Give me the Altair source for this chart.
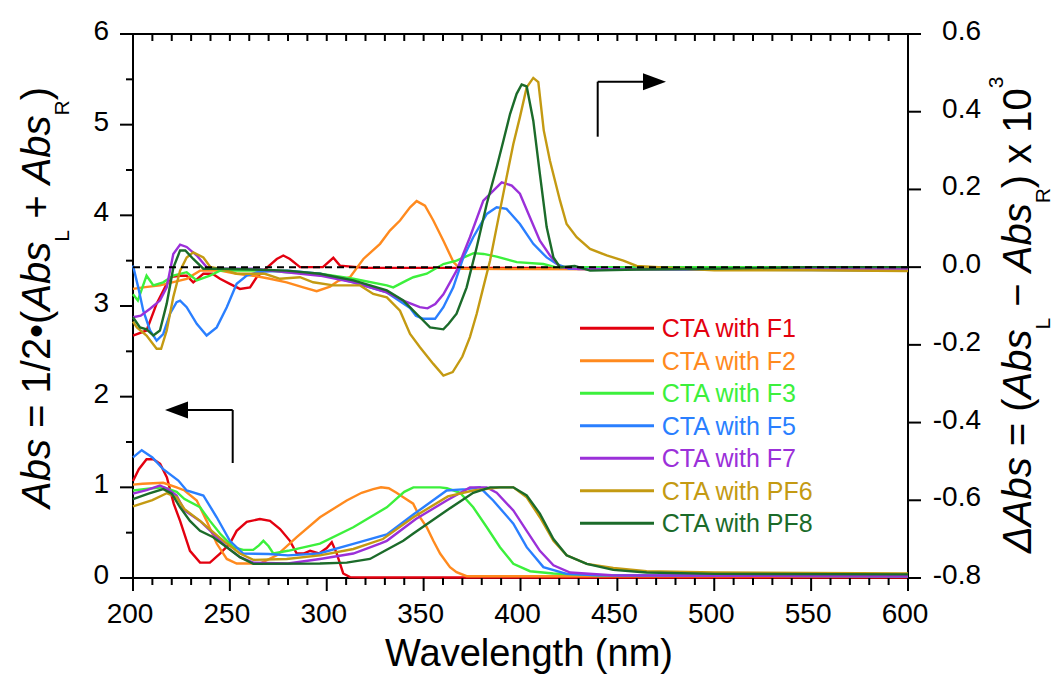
import altair as alt
import pandas as pd

SERIES = ["CTA with F1", "CTA with F2", "CTA with F3", "CTA with F5",
          "CTA with F7", "CTA with PF6", "CTA with PF8"]
COLORS = ["#e3000f", "#ff8a1e", "#3cf03c", "#2a7fff", "#9b30d9", "#c49a12", "#1b6b2a"]

# ---- absorbance spectra (left axis), (wavelength nm, Abs) ----
abs_F1 = [(200, 1.07), (203, 1.20), (207, 1.31), (210.5, 1.31), (214, 1.26), (217.5, 1.11),
          (221, 0.82), (224.3, 0.63), (229.4, 0.30), (234.6, 0.17), (239.7, 0.17), (244.9, 0.27),
          (250, 0.38), (253.5, 0.52), (258.7, 0.62), (265.5, 0.65), (270.7, 0.63), (275.9, 0.54),
          (281, 0.41), (284.5, 0.27), (288, 0.27), (291.4, 0.30), (296, 0.27), (300, 0.33),
          (302.6, 0.395), (305, 0.28), (308.5, 0.05), (312, 0.01), (320, 0.005), (400, 0.005),
          (500, 0.005), (600, 0.005)]
abs_F2 = [(200, 1.03), (205, 1.04), (215.6, 1.05), (222.5, 1.0), (226.6, 0.965), (232.9, 0.855),
          (238, 0.63), (243.2, 0.38), (248.4, 0.21), (253.5, 0.16), (265.5, 0.16), (274.2, 0.25),
          (284.5, 0.45), (296.5, 0.67), (310.3, 0.855), (318, 0.94), (324, 0.98), (328, 1.0),
          (332, 0.99), (336, 0.94), (339.5, 0.89), (344.6, 0.82), (348.1, 0.67), (351.6, 0.56),
          (355, 0.41), (358.5, 0.27), (363.6, 0.12), (367, 0.064), (372.2, 0.02), (450, 0.02),
          (600, 0.02)]
abs_F3 = [(200, 0.965), (210, 0.99), (215.6, 1.0), (222.5, 0.95), (226.6, 0.87), (234.6, 0.78),
          (239.7, 0.63), (244.9, 0.49), (251.7, 0.34), (256.9, 0.31), (262, 0.31), (265, 0.36),
          (267.3, 0.41), (270, 0.35), (272.4, 0.27), (280, 0.30), (296.5, 0.38), (313.7, 0.56),
          (331, 0.78), (340, 0.95), (344.7, 1.0), (358.5, 1.0), (362, 0.99), (368.8, 0.94),
          (375.6, 0.78), (382.6, 0.56), (389.4, 0.34), (396.3, 0.156), (404.9, 0.075),
          (416.9, 0.05), (440, 0.03), (600, 0.02)]
abs_F5 = [(200, 1.33), (204.5, 1.41), (210, 1.33), (215.6, 1.20), (223.4, 1.075), (227.7, 0.965),
          (236.3, 0.91), (243.2, 0.67), (250, 0.41), (256.9, 0.27), (270, 0.265), (280, 0.25),
          (296, 0.27), (313.7, 0.377), (331, 0.48), (344.7, 0.70), (361.9, 0.965), (372.2, 0.98),
          (379, 1.0), (385.9, 0.855), (396.3, 0.60), (403.2, 0.34), (411.8, 0.12), (423.8, 0.046),
          (440, 0.03), (600, 0.02)]
abs_F7 = [(200, 0.93), (207, 0.97), (213.9, 1.02), (218, 0.98), (222.5, 0.91), (226.6, 0.745),
          (234.6, 0.63), (241.4, 0.49), (248.4, 0.34), (255.2, 0.23), (262.1, 0.17), (280, 0.16),
          (296.5, 0.21), (313.7, 0.27), (327.5, 0.38), (331, 0.41), (346, 0.65), (361.9, 0.855),
          (373.9, 1.0), (382.6, 1.0), (387.7, 0.94), (396.3, 0.745), (403.2, 0.52), (410, 0.30),
          (417, 0.14), (425.6, 0.06), (447, 0.03), (600, 0.02)]
abs_PF6 = [(200, 0.79), (210, 0.86), (217.4, 0.935), (222.5, 0.89), (226.6, 0.76), (234.6, 0.63),
           (241.4, 0.505), (248.4, 0.38), (255.2, 0.27), (262.1, 0.20), (279.3, 0.21), (296.5, 0.25),
           (313.7, 0.32), (329, 0.43), (344.7, 0.67), (362.5, 0.90), (375.6, 0.965), (389.4, 1.0),
           (396.3, 1.0), (403.2, 0.89), (410, 0.67), (417, 0.41), (423.8, 0.25), (434.2, 0.156),
           (447.9, 0.11), (465.1, 0.075), (500, 0.06), (600, 0.05)]
abs_PF8 = [(200, 0.87), (208, 0.93), (215.6, 0.98), (220, 0.93), (224.3, 0.78), (229.4, 0.63),
           (234.6, 0.52), (241.4, 0.45), (248.4, 0.34), (255.2, 0.23), (262.1, 0.156), (296.5, 0.16),
           (310.3, 0.17), (322.3, 0.21), (330, 0.30), (339.5, 0.41), (344.7, 0.49), (363, 0.76),
           (375.6, 0.94), (384.3, 1.0), (396.3, 1.0), (403.2, 0.91), (410, 0.71), (417, 0.43),
           (423.8, 0.25), (434.2, 0.156), (447.9, 0.09), (465.1, 0.06), (500, 0.045), (600, 0.04)]

# ---- CD spectra (right axis), (wavelength nm, dAbs x 10^3) ----
cd_F1 = [(200, -0.176), (207, -0.163), (212.2, -0.094), (217.4, -0.043), (220, -0.025),
         (224.3, -0.022), (227.7, -0.022), (231.1, -0.039), (236.3, -0.017), (241, -0.017),
         (244.9, -0.03), (250, -0.043), (255.2, -0.056), (260.4, -0.052), (263.8, -0.026),
         (269, -0.002), (274.2, 0.021), (277.6, 0.03), (281, 0.021), (286.2, 0.0), (298, 0.0),
         (303.4, 0.024), (306.8, 0.004), (320, -0.002), (400, -0.002), (500, 0.0), (600, 0.0)]
cd_F2 = [(200, -0.056), (205.3, -0.052), (213.9, -0.047), (227.7, -0.03), (234.6, -0.009),
         (244.9, -0.009), (253.5, -0.017), (262.1, -0.022), (270.7, -0.03), (279.3, -0.039),
         (287.9, -0.052), (294.8, -0.062), (301.7, -0.05), (306, -0.035), (312, -0.026),
         (318.9, 0.021), (327.5, 0.06), (332.6, 0.094), (337.8, 0.12), (343, 0.154), (346.4, 0.17),
         (350.7, 0.158), (355, 0.12), (360.2, 0.068), (365.4, 0.013), (368.8, -0.004),
         (400, -0.005), (500, -0.006), (600, -0.008)]
cd_F3 = [(200, -0.07), (202.5, -0.086), (205, -0.05), (207, -0.022), (210.5, -0.047),
         (215.6, -0.039), (220.8, -0.022), (227.7, -0.013), (232.9, -0.034), (239.7, -0.022),
         (244.9, -0.009), (270, -0.009), (279.3, -0.013), (296.5, -0.017), (313.7, -0.03),
         (331, -0.047), (334.3, -0.052), (341.3, -0.034), (344.7, -0.026), (351.6, -0.017),
         (360.2, 0.008), (367, 0.017), (375.8, 0.036), (380.9, 0.034), (387.7, 0.027),
         (398.1, 0.013), (411.8, 0.008), (418, 0.0), (500, 0.0), (600, 0.0)]
cd_F5 = [(200, 0.004), (202.7, -0.052), (205.3, -0.112), (208.8, -0.163), (212.2, -0.189),
         (215.6, -0.172), (219.1, -0.12), (222.5, -0.09), (224.3, -0.086), (227.7, -0.103),
         (232.9, -0.146), (238, -0.176), (243.2, -0.155), (248.4, -0.103), (253.5, -0.043),
         (258.7, -0.022), (265, -0.012), (280, -0.009), (296.5, -0.017), (313.7, -0.039),
         (331, -0.065), (343, -0.105), (346, -0.125), (349.8, -0.133), (355.9, -0.133),
         (360.2, -0.103), (365.3, -0.052), (370.5, 0.025), (375.6, 0.077), (382.6, 0.137),
         (387.7, 0.154), (392.8, 0.15), (399.7, 0.111), (406.6, 0.06), (413.5, 0.025),
         (418.7, 0.008), (425, -0.004), (500, -0.006), (600, -0.009)]
cd_F7 = [(200, -0.129), (204, -0.125), (208.8, -0.107), (213.9, -0.086), (217.4, -0.052),
         (220.8, 0.034), (224.3, 0.058), (227.7, 0.052), (232.9, 0.03), (238, 0.0), (244, -0.004),
         (262, -0.004), (279.3, -0.013), (296.5, -0.022), (313.7, -0.039), (331, -0.065),
         (339.5, -0.086), (348, -0.103), (352, -0.106), (356, -0.095), (360.2, -0.07),
         (367, -0.009), (373.9, 0.077), (380.8, 0.171), (386, 0.197), (390.3, 0.218),
         (395.5, 0.21), (399.7, 0.189), (404.9, 0.128), (410, 0.068), (415.2, 0.03), (420.4, 0.0),
         (430, -0.005), (600, -0.005)]
cd_PF6 = [(200, -0.14), (202, -0.155), (207, -0.176), (212.2, -0.21), (214.5, -0.21),
          (217.4, -0.163), (220.8, -0.077), (224.3, -0.009), (227.7, 0.025), (231.1, 0.038),
          (236.3, 0.025), (240, 0.0), (244.9, -0.004), (253.5, -0.017), (268, -0.017),
          (275.9, -0.03), (286.2, -0.026), (293, -0.039), (303.4, -0.047), (317.2, -0.047),
          (324, -0.069), (331, -0.078), (337.8, -0.112), (343, -0.172), (348.1, -0.206),
          (355, -0.249), (360.2, -0.279), (365, -0.27), (370, -0.23), (373.9, -0.18),
          (377.4, -0.12), (380.8, -0.052), (384.3, 0.017), (387.7, 0.103), (392.8, 0.231),
          (396.3, 0.317), (399.7, 0.386), (403.2, 0.463), (406.6, 0.487), (409.2, 0.476),
          (412, 0.352), (415.2, 0.274), (420.4, 0.171), (423.8, 0.111), (429, 0.077),
          (435.9, 0.047), (444.5, 0.03), (453.1, 0.017), (460, 0.003), (480, -0.003),
          (500, -0.008), (550, -0.008), (600, -0.01)]
cd_PF8 = [(200, -0.129), (203.6, -0.155), (207, -0.16), (210.5, -0.176), (213.9, -0.163),
          (217.4, -0.094), (220.8, -0.002), (224.3, 0.043), (227, 0.043), (231.1, 0.021),
          (236.3, -0.004), (244, -0.004), (262, -0.006), (279.3, -0.009), (296.5, -0.017),
          (313.7, -0.034), (331, -0.06), (339.5, -0.086), (348.1, -0.129), (353.3, -0.155),
          (360.2, -0.16), (363, -0.145), (367, -0.12), (372.2, -0.052), (377.4, 0.051),
          (382.6, 0.163), (387.7, 0.257), (391.2, 0.326), (394.6, 0.394), (398, 0.446),
          (400.6, 0.47), (403.2, 0.465), (406.6, 0.377), (410, 0.24), (413.5, 0.103),
          (417, 0.025), (420.4, 0.0), (428, 0.003), (435.9, -0.009), (460, -0.006),
          (500, -0.004), (550, 0.0), (600, 0.0)]

ABS_CURVES = [abs_F1, abs_F2, abs_F3, abs_F5, abs_F7, abs_PF6, abs_PF8]
CD_CURVES = [cd_F1, cd_F2, cd_F3, cd_F5, cd_F7, cd_PF6, cd_PF8]

X_MAJOR = [200, 250, 300, 350, 400, 450, 500, 550, 600]
X_MINOR = [v for v in range(210, 600, 10) if v % 50]
X_TOP = list(range(210, 600, 10))
ABS_TICKS = [0, 1, 2, 3, 4, 5, 6]
ABS_MINOR = [0.5, 1.5, 2.5, 3.5, 4.5, 5.5]
CD_TICKS = [-0.8, -0.6, -0.4, -0.2, 0.0, 0.2, 0.4, 0.6]
CD_LABELS = ["-0.8", "-0.6", "-0.4", "-0.2", "0.0", "0.2", "0.4", "0.6"]

W, H = 775, 544
FONT = "Liberation Sans"
LBL = 28


def to_frame(curves):
    rows = []
    for name, pts in zip(SERIES, curves):
        for i, (w, v) in enumerate(pts):
            rows.append({"series": name, "wl": w, "val": v, "i": i})
    return pd.DataFrame(rows)


abs_df = to_frame(ABS_CURVES)
cd_df = to_frame(CD_CURVES)

x_scale = alt.Scale(domain=[200, 600], nice=False, zero=False)
abs_scale = alt.Scale(domain=[0, 6], nice=False, zero=False)
cd_scale = alt.Scale(domain=[-0.8, 0.6], nice=False, zero=False)
color = alt.Color("series:N", scale=alt.Scale(domain=SERIES, range=COLORS), legend=None)


def xq(field):
    return alt.X(field, scale=x_scale, axis=None)


def rule(df):
    return alt.Chart(df).mark_rule(color="black", strokeWidth=2)


# ---- absorbance group (left axis) ----
abs_lines = alt.Chart(abs_df).mark_line(strokeWidth=2.4).encode(
    x=xq("wl:Q"), y=alt.Y("val:Q", scale=abs_scale, axis=None),
    color=color, order=alt.Order("i:Q"))
left_major = rule(pd.DataFrame({"v": ABS_TICKS})).encode(
    y=alt.Y("v:Q", scale=abs_scale, axis=None), x=alt.value(-13), x2=alt.value(0))
left_minor = rule(pd.DataFrame({"v": ABS_MINOR})).encode(
    y=alt.Y("v:Q", scale=abs_scale, axis=None), x=alt.value(-7), x2=alt.value(0))
left_labels = alt.Chart(pd.DataFrame({"v": ABS_TICKS, "lab": [str(v) for v in ABS_TICKS]})).mark_text(
    align="right", baseline="alphabetic", dy=6, font=FONT, fontSize=LBL, color="black").encode(
    y=alt.Y("v:Q", scale=abs_scale, axis=None), x=alt.value(-24), text="lab:N")
bottom_major = rule(pd.DataFrame({"v": X_MAJOR})).encode(
    x=xq("v:Q"), y=alt.value(H), y2=alt.value(H + 13))
bottom_minor = rule(pd.DataFrame({"v": X_MINOR})).encode(
    x=xq("v:Q"), y=alt.value(H), y2=alt.value(H + 7))
bottom_labels = alt.Chart(pd.DataFrame({"v": X_MAJOR, "lab": [str(v) for v in X_MAJOR]})).mark_text(
    align="center", baseline="alphabetic", dx=-3, font=FONT, fontSize=LBL, color="black").encode(
    x=xq("v:Q"), y=alt.value(H + 45), text="lab:N")
top_ticks = rule(pd.DataFrame({"v": X_TOP})).encode(
    x=xq("v:Q"), y=alt.value(0), y2=alt.value(7))

abs_group = alt.layer(abs_lines, left_major, left_minor, left_labels,
                      bottom_major, bottom_minor, bottom_labels, top_ticks)

# ---- CD group (right axis) ----
cd_lines = alt.Chart(cd_df).mark_line(strokeWidth=2.4).encode(
    x=xq("wl:Q"), y=alt.Y("val:Q", scale=cd_scale, axis=None),
    color=color, order=alt.Order("i:Q"))
zero_line = alt.Chart(pd.DataFrame({"z": [0.0]})).mark_rule(
    color="black", strokeWidth=2, strokeDash=[7, 5]).encode(
    y=alt.Y("z:Q", scale=cd_scale, axis=None), x=alt.value(0), x2=alt.value(W))
right_major = rule(pd.DataFrame({"v": CD_TICKS})).encode(
    y=alt.Y("v:Q", scale=cd_scale, axis=None), x=alt.value(W), x2=alt.value(W + 13))
right_labels = alt.Chart(pd.DataFrame({"v": CD_TICKS, "lab": CD_LABELS})).mark_text(
    align="right", baseline="alphabetic", dy=6, font=FONT, fontSize=LBL, color="black").encode(
    y=alt.Y("v:Q", scale=cd_scale, axis=None), x=alt.value(W + 73), text="lab:N")
cd_group = alt.layer(cd_lines, zero_line, right_major, right_labels)

# ---- legend (drawn inside plot) ----
leg = pd.DataFrame({"series": SERIES, "k": list(range(len(SERIES)))})
leg["ly"] = 294.3 + 32.5 * leg["k"]
leg["ty"] = leg["ly"] + 9
leg["x1"] = 447
leg["x2"] = 521
leg["tx"] = 528.7
legend_lines = alt.Chart(leg).mark_rule(strokeWidth=3).encode(
    x=alt.X("x1:Q", scale=None, axis=None), x2="x2:Q",
    y=alt.Y("ly:Q", scale=None, axis=None), color=color)
legend_text = alt.Chart(leg).mark_text(align="left", baseline="alphabetic", font=FONT, fontSize=25).encode(
    x=alt.X("tx:Q", scale=None, axis=None), y=alt.Y("ty:Q", scale=None, axis=None),
    text="series:N", color=color)

# ---- arrows ----
arrow_df = pd.DataFrame({"x1": [52, 99.7, 464.7, 464.7], "y1": [376, 376, 47.7, 47.7],
                         "x2": [99.7, 99.7, 464.7, 512], "y2": [376, 429, 102.7, 47.7]})
arrow_lines = alt.Chart(arrow_df).mark_rule(color="black", strokeWidth=2).encode(
    x=alt.X("x1:Q", scale=None, axis=None), x2="x2:Q",
    y=alt.Y("y1:Q", scale=None, axis=None), y2="y2:Q")
head_l = alt.Chart(pd.DataFrame({"x": [43.5], "y": [376]})).mark_point(
    shape="M -1 0 L 1 -0.74 L 1 0.74 Z", filled=True, size=529, color="black", opacity=1).encode(
    x=alt.X("x:Q", scale=None, axis=None), y=alt.Y("y:Q", scale=None, axis=None))
head_r = alt.Chart(pd.DataFrame({"x": [521.5], "y": [47.7]})).mark_point(
    shape="M 1 0 L -1 -0.74 L -1 0.74 Z", filled=True, size=529, color="black", opacity=1).encode(
    x=alt.X("x:Q", scale=None, axis=None), y=alt.Y("y:Q", scale=None, axis=None))

# ---- axis titles as rich text pieces (rotated, read bottom to top) ----
EM = {"Abs": 1.723, "\u0394Abs": 2.39, " ": 0.278, "=": 0.584, "1/2": 1.39, "\u2022": 0.35,
      "(": 0.333, ")": 0.333, "+": 0.584, "L": 0.556, "R": 0.722, "\u2212": 0.584,
      "x": 0.5, "10": 1.112, "3": 0.556}
MAIN_FS, SMALL_FS = 40, 21
LEFT_TITLE = [("Abs", "m", True), (" ", "m", False), ("=", "m", False), (" ", "m", False),
              ("1/2", "m", False), ("\u2022", "m", False), ("(", "m", False), ("Abs", "m", True),
              ("L", "sub", False), (" ", "m", False), ("+", "m", False), (" ", "m", False),
              ("Abs", "m", True), ("R", "sub", False), (")", "m", False)]
RIGHT_TITLE = [("\u0394Abs", "m", True), (" ", "m", False), ("=", "m", False), (" ", "m", False),
               ("(", "m", False), ("Abs", "m", True), ("L", "sub", False), (" ", "m", False),
               ("\u2212", "m", False), (" ", "m", False), ("Abs", "m", True), ("R", "sub", False),
               (")", "m", False), (" ", "m", False), ("x", "m", False), (" ", "m", False),
               ("10", "m", False), ("3", "sup", False)]


def layout(pieces, y0, xm, xsub, xsup):
    rows, y = [], y0
    for t, kind, it in pieces:
        fs = MAIN_FS if kind == "m" else SMALL_FS
        x = {"m": xm, "sub": xsub, "sup": xsup}[kind]
        if t != " ":
            rows.append({"t": t, "x": x, "y": y, "fs": fs, "it": it})
        y -= EM[t] * fs
    return rows


tdf = pd.DataFrame(layout(LEFT_TITLE, 474, -83, -64, -100) +
                   layout(RIGHT_TITLE, 519, 898, 917, 870))


def title_layer(df, style):
    return alt.Chart(df).mark_text(angle=270, align="left", baseline="alphabetic", font=FONT,
                                   fontStyle=style, color="black").encode(
        x=alt.X("x:Q", scale=None, axis=None), y=alt.Y("y:Q", scale=None, axis=None),
        text="t:N", size=alt.Size("fs:Q", scale=None, legend=None))


titles_reg = title_layer(tdf[~tdf["it"]], "normal")
titles_it = title_layer(tdf[tdf["it"]], "italic")
xtitle = alt.Chart(pd.DataFrame({"t": ["Wavelength (nm)"], "x": [396], "y": [632]})).mark_text(
    align="center", baseline="alphabetic", font=FONT, fontSize=38, color="black").encode(
    x=alt.X("x:Q", scale=None, axis=None), y=alt.Y("y:Q", scale=None, axis=None), text="t:N")

chart = alt.layer(
    abs_group, cd_group, legend_lines, legend_text, arrow_lines, head_l, head_r,
    titles_reg, titles_it, xtitle
).resolve_scale(y="independent").properties(
    width=W, height=H,
    padding={"left": 125, "top": 26, "right": 146, "bottom": 96},
    autosize=alt.AutoSizeParams(type="none"),
    background="white",
).configure_view(stroke="black", strokeWidth=2)

chart.save("out.html", embed_options={"renderer": "svg", "actions": False})
